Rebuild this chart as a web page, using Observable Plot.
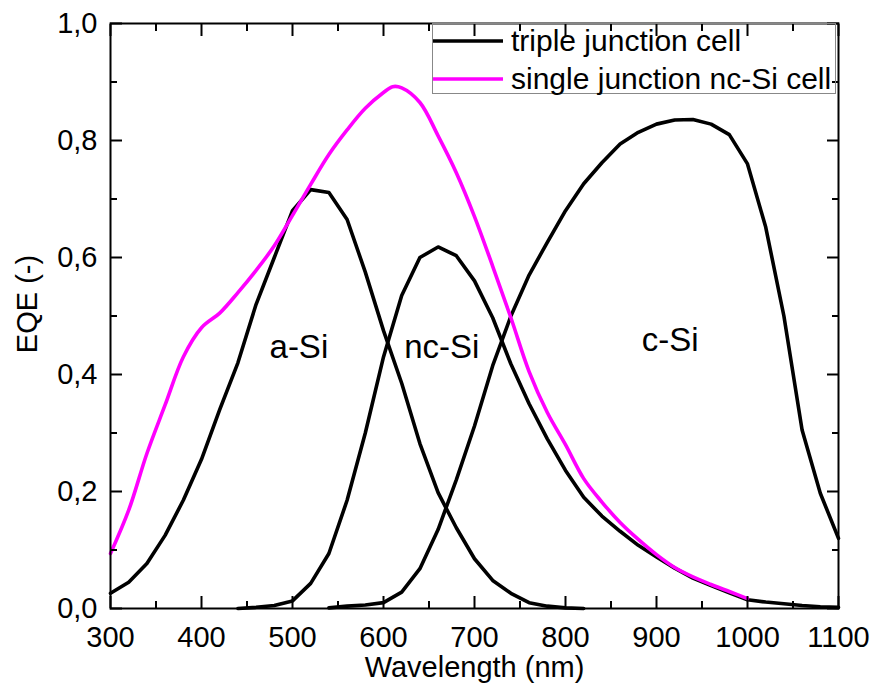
<!DOCTYPE html>
<html>
<head>
<meta charset="utf-8">
<script src="https://cdn.jsdelivr.net/npm/d3@7"></script>
<script src="https://cdn.jsdelivr.net/npm/@observablehq/plot@0.6"></script>
<style>
  html, body { margin: 0; padding: 0; background: #fff; }
  #wrap { position: relative; width: 875px; height: 686px; font-family: "Liberation Sans", Arial, sans-serif; }
  #legend { position: absolute; left: 432px; top: 23px; width: 404px; height: 71px; border: 1px solid #888; box-sizing: border-box; background: transparent; }
  .row { position: absolute; left: 0; height: 36px; display: flex; align-items: center; font-size: 30px; color: #000; white-space: nowrap; }
  .row svg { display: block; margin-right: 8px; }
</style>
</head>
<body>
<div id="wrap"></div>
<script>
// ---- data ----
const aSiWl  = [300,320,340,360,380,400,420,440,460,480,500,520,540,560,580,600,620,640,660,680,700,720,740,760,780,800,820];
const aSiEqe = [0.026,0.045,0.077,0.125,0.185,0.255,0.34,0.42,0.52,0.60,0.68,0.716,0.711,0.665,0.575,0.475,0.385,0.282,0.198,0.138,0.085,0.048,0.026,0.01,0.004,0.001,0];

const ncSiWl  = [440,460,480,500,520,540,560,580,600,620,640,660,680,700,720,740,760,780,800,820,840,860,880,900,920,940,960,980,1000,1020,1040,1060,1080,1100];
const ncSiEqe = [0,0.002,0.005,0.013,0.043,0.094,0.185,0.30,0.43,0.535,0.60,0.618,0.603,0.56,0.497,0.418,0.35,0.29,0.236,0.19,0.158,0.132,0.108,0.088,0.069,0.052,0.039,0.027,0.015,0.011,0.008,0.005,0.003,0.002];

const cSiWl  = [540,560,580,600,620,640,660,680,700,720,740,760,780,800,820,840,860,880,900,920,940,960,980,1000,1020,1040,1060,1080,1100];
const cSiEqe = [0.001,0.004,0.006,0.01,0.028,0.068,0.135,0.22,0.312,0.415,0.50,0.57,0.626,0.68,0.726,0.762,0.794,0.814,0.828,0.835,0.836,0.828,0.81,0.76,0.652,0.50,0.305,0.197,0.12];

const singleWl  = [300,320,340,360,380,400,420,440,460,480,500,520,540,560,580,600,610,620,640,660,680,700,720,740,760,780,800,820,840,860,880,900,920,940,960,980,1000];
const singleEqe = [0.094,0.168,0.265,0.348,0.43,0.48,0.505,0.54,0.578,0.62,0.672,0.725,0.776,0.818,0.855,0.882,0.892,0.89,0.865,0.808,0.745,0.67,0.585,0.497,0.405,0.335,0.28,0.222,0.182,0.147,0.118,0.092,0.07,0.054,0.041,0.029,0.017];

const xMajor = [300,400,500,600,700,800,900,1000,1100];
const xMinor = [350,450,550,650,750,850,950,1050];
const yMajor = [0,0.2,0.4,0.6,0.8,1.0];
const yMinor = [0.1,0.3,0.5,0.7,0.9];

const labelText = ["a-Si","nc-Si","c-Si"];
const labelX = [507,664,915];
const labelY = [0.447,0.447,0.458];

const legendNames = ["triple junction cell","single junction nc-Si cell"];
const legendColors = ["#000000","#ff00ff"];

// ---- build tables ----
const triple = [];
aSiWl.forEach((w,i)=>triple.push({wl:w, eqe:aSiEqe[i], sub:"a-Si"}));
ncSiWl.forEach((w,i)=>triple.push({wl:w, eqe:ncSiEqe[i], sub:"nc-Si"}));
cSiWl.forEach((w,i)=>triple.push({wl:w, eqe:cSiEqe[i], sub:"c-Si"}));
const single = singleWl.map((w,i)=>({wl:w, eqe:singleEqe[i]}));
const labels = labelText.map((t,i)=>({t, x:labelX[i], y:labelY[i]}));

const W = 875, H = 686;
const mL = 110, mR = 37, mT = 23, mB = 78;
const fmt = d => d.toFixed(1).replace(".", ",");
const blank = () => "";
const font = "Liberation Sans, Arial, sans-serif";
const tk = {stroke: "#000", strokeWidth: 2, tickFormat: blank, label: null, tickPadding: 0};

const chart = Plot.plot({
  width: W, height: H,
  marginLeft: mL, marginRight: mR, marginTop: mT, marginBottom: mB,
  style: {fontFamily: font, background: "#fff", overflow: "visible"},
  x: {domain: [300, 1100]},
  y: {domain: [0, 1]},
  marks: [
    Plot.line(triple, {x: "wl", y: "eqe", z: "sub", stroke: "#000", strokeWidth: 3.6, strokeLinejoin: "round"}),
    Plot.line(single, {x: "wl", y: "eqe", stroke: "#ff00ff", strokeWidth: 3.6, curve: "catmull-rom"}),
    Plot.text(labels, {x: "x", y: "y", text: "t", fontSize: 33, fill: "#000", textAnchor: "middle", lineAnchor: "middle"}),
    // inward ticks on all four sides (axis ticks shifted inside the frame)
    Plot.axisX(xMajor, {...tk, anchor: "bottom", tickSize: 12, dy: -12}),
    Plot.axisX(xMinor, {...tk, anchor: "bottom", tickSize: 7, dy: -7}),
    Plot.axisX(xMajor, {...tk, anchor: "top", tickSize: 12, dy: 12}),
    Plot.axisX(xMinor, {...tk, anchor: "top", tickSize: 7, dy: 7}),
    Plot.axisY(yMajor, {...tk, anchor: "left", tickSize: 12, dx: 12}),
    Plot.axisY(yMinor, {...tk, anchor: "left", tickSize: 7, dx: 7}),
    Plot.axisY(yMajor, {...tk, anchor: "right", tickSize: 12, dx: -12}),
    Plot.axisY(yMinor, {...tk, anchor: "right", tickSize: 7, dx: -7}),
    Plot.frame({stroke: "#000", strokeWidth: 2}),
    Plot.axisX(xMajor, {anchor: "bottom", tickSize: 0, tickPadding: 18, fontSize: 29, label: null, tickFormat: d => String(d), fill: "#000"}),
    Plot.axisY(yMajor, {anchor: "left", tickSize: 0, tickPadding: 13, fontSize: 29, label: null, tickFormat: fmt, fill: "#000"}),
    Plot.text(["Wavelength (nm)"], {frameAnchor: "bottom", textAnchor: "middle", lineAnchor: "bottom", dy: 68, text: d => d, fontSize: 29, fill: "#000"}),
    Plot.text(["EQE (-)"], {frameAnchor: "left", textAnchor: "middle", lineAnchor: "middle", rotate: -90, dx: -83, dy: -12, text: d => d, fontSize: 29, fill: "#000"})
  ]
});

const wrap = document.getElementById("wrap");
wrap.appendChild(chart);

// legend overlay (inside plot area, top-right)
const legend = document.createElement("div");
legend.id = "legend";
legendNames.forEach((name, i) => {
  const row = document.createElement("div");
  row.className = "row";
  row.style.top = (i === 0 ? -1 : 37) + "px";
  row.innerHTML = `<svg width="70" height="8"><line x1="0" y1="4" x2="70" y2="4" stroke="${legendColors[i]}" stroke-width="3.6"/></svg><span>${name}</span>`;
  legend.appendChild(row);
});
wrap.appendChild(legend);
</script>
</body>
</html>
